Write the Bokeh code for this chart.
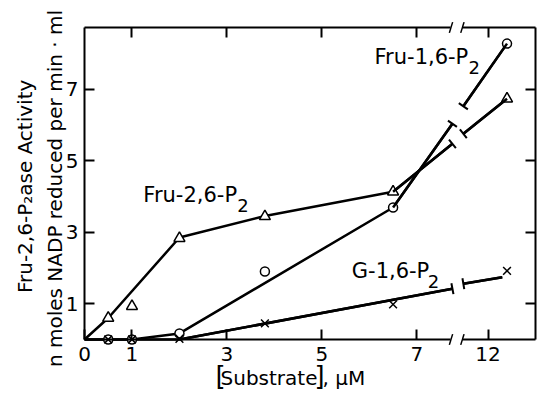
from bokeh.plotting import figure
from bokeh.models import Range1d, LinearAxis, FixedTicker, Label, Arrow, TeeHead
from bokeh.embed import file_html
from bokeh.resources import INLINE

# ---- data (substrate in uM, activity in nmol NADP / min.ml) ----
tri_x = [0.5, 1.0, 2.0, 3.8, 6.5, 12.4]
tri_y = [0.60, 0.93, 2.83, 3.44, 4.13, 6.73]
circ_x = [0.5, 1.0, 2.0, 3.8, 6.5, 12.4]
circ_y = [0.0, 0.0, 0.17, 1.90, 3.69, 8.27]
cross_x = [0.5, 1.0, 2.0, 3.8, 6.5, 12.4]
cross_y = [0.0, 0.0, 0.02, 0.45, 0.98, 1.92]

# drawn (fitted) curves, left and right of the axis break
fru26_left_x = [0.0, 0.5, 2.0, 3.8, 6.5, 7.75]
fru26_left_y = [0.0, 0.60, 2.85, 3.45, 4.13, 5.47]
fru26_right_x = [11.48, 12.4]
fru26_right_y = [5.75, 6.73]
fru16_left_x = [0.0, 1.0, 2.0, 6.5, 7.75]
fru16_left_y = [0.0, 0.0, 0.17, 3.69, 6.03]
fru16_right_x = [11.48, 12.4]
fru16_right_y = [6.52, 8.27]
g16_left_x = [0.0, 2.0, 7.75]
g16_left_y = [0.0, 0.0, 1.42]
g16_right_x = [11.48, 12.3]
g16_right_y = [1.56, 1.74]

x_ticks_left = [0, 1, 3, 5, 7]
x_ticks_right = [12]
y_ticks = [1, 3, 5, 7]

# broken x axis: values above the break are shifted left
BREAK_SHIFT = 3.5
def bx(v):
    return v if v <= 9 else v - BREAK_SHIFT
def bxs(vs):
    return [bx(v) for v in vs]

FONT = "DejaVu Sans"
FS = "20px"
XMAX, YMAX = 9.5, 8.72          # extent of the boxed plot area (display units)
W, H = 537, 400
L, R, T, B = 84, 535, 27, 339   # pixel box of the axes
sx = (R - L) / XMAX
sy = (B - T) / YMAX
x_range = Range1d(-L / sx, XMAX + (W - R) / sx)
y_range = Range1d(-(H - B) / sy, YMAX + T / sy)

p = figure(width=W, height=H, x_range=x_range, y_range=y_range,
           output_backend="svg", toolbar_location=None,
           x_axis_location=None, y_axis_location=None, min_border=0)
p.grid.visible = False
p.outline_line_color = None

def axis(ticks, overrides, loc, bounds, labels=True, standoff=6):
    ax = LinearAxis(ticker=FixedTicker(ticks=ticks), major_label_overrides=overrides,
                    fixed_location=loc, bounds=bounds)
    ax.major_tick_in = 10
    ax.major_tick_out = 0
    ax.major_tick_line_width = 2
    ax.major_tick_line_color = "black"
    ax.minor_tick_line_color = None
    ax.axis_line_width = 2
    ax.axis_line_color = "black"
    ax.major_label_text_font = FONT
    ax.major_label_text_font_size = FS if labels else "1px"
    ax.major_label_text_color = "black" if labels else None
    ax.major_label_text_font_style = "normal"
    ax.major_label_standoff = standoff
    return ax

LB, RB = 7.72, 7.96   # ends of the axis line on both sides of the break
xo_right = {bx(t): str(t) for t in x_ticks_right}
p.add_layout(axis(x_ticks_left, {}, 0, (0, LB), True, 7), "below")
p.add_layout(axis(bxs(x_ticks_right), xo_right, 0, (RB, XMAX), True, 7), "below")
p.add_layout(axis(x_ticks_left[1:], {}, YMAX, (0, LB), False), "above")
p.add_layout(axis(bxs(x_ticks_right), {}, YMAX, (RB, XMAX), False), "above")
p.add_layout(axis(y_ticks, {}, 0, (0, YMAX), True, 6), "left")
p.add_layout(axis(y_ticks, {}, XMAX, (0, YMAX), False), "right")

# "//" break marks on top and bottom axes
for yy in (0, YMAX):
    for xc in (LB, RB):
        p.segment(x0=[xc - 0.035], y0=[yy - 0.15], x1=[xc + 0.035], y1=[yy + 0.15],
                  line_width=1.5, line_color="black")

LW = 2.5
def broken_line(lx, ly, rx, ry):
    p.line(bxs(lx), ly, line_width=LW, line_color="black")
    p.line(bxs(rx), ry, line_width=LW, line_color="black")
    p.add_layout(Arrow(x_start=bx(lx[-2]), y_start=ly[-2], x_end=bx(lx[-1]), y_end=ly[-1],
                       start=None, end=TeeHead(size=11, line_width=2), line_width=LW))
    p.add_layout(Arrow(x_start=bx(rx[0]), y_start=ry[0], x_end=bx(rx[1]), y_end=ry[1],
                       start=TeeHead(size=11, line_width=2), end=None, line_width=LW))

broken_line(fru26_left_x, fru26_left_y, fru26_right_x, fru26_right_y)
broken_line(fru16_left_x, fru16_left_y, fru16_right_x, fru16_right_y)
broken_line(g16_left_x, g16_left_y, g16_right_x, g16_right_y)

p.scatter(bxs(tri_x), tri_y, marker="triangle", size=11, line_width=1.5,
          line_color="black", fill_color="white")
p.scatter(bxs(circ_x), circ_y, marker="circle", size=9, line_width=1.5,
          line_color="black", fill_color="white")
p.scatter(bxs(cross_x), cross_y, marker="x", size=11, line_width=1.5, line_color="black")

def lab(x, y, t, fs=FS, **kw):
    p.add_layout(Label(x=x, y=y, text=t, text_font=FONT, text_font_size=fs,
                       text_color="black", **kw))

# curve names with subscript "2"
def name(x, y, main, sub_dx):
    lab(x, y, main, fs="21px")
    lab(x, y, "2", fs="18px", x_offset=sub_dx, y_offset=-5)

name(6.11, 7.57, "Fru-1,6-P", 94)
name(1.24, 3.69, "Fru-2,6-P", 94)
name(5.63, 1.59, "G-1,6-P", 76)

# x-axis title with tall brackets
XT_X, XT_Y = 2.76, -1.42
lab(XT_X, XT_Y, "[", fs="26px", y_offset=-1)
lab(XT_X, XT_Y, "Substrate", x_offset=5)
lab(XT_X, XT_Y, "]", fs="26px", x_offset=99, y_offset=-1)
lab(XT_X, XT_Y, ", μM", x_offset=107)

lab(-1.25, 4.28, "Fru-2,6-P₂ase Activity", angle=1.5708, text_align="center", text_baseline="middle")
lab(-0.63, 4.22, "n moles NADP reduced per min · ml", angle=1.5708, text_align="center", text_baseline="middle")

open("out.html", "w").write(file_html(p, INLINE))
